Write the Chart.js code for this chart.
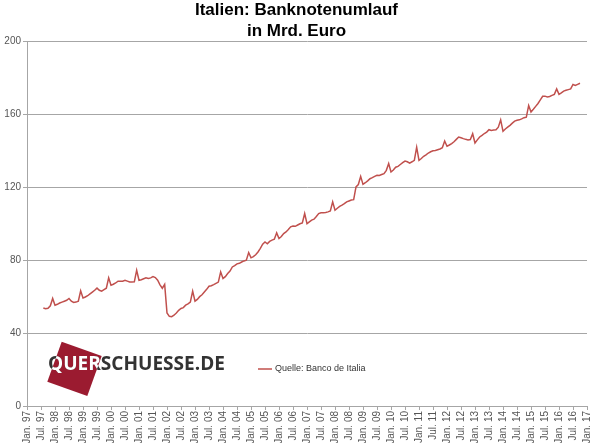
<!DOCTYPE html>
<html>
<head>
<meta charset="utf-8">
<script src="https://cdn.jsdelivr.net/npm/chart.js@4"></script>
<style>
  html, body { margin: 0; padding: 0; background: #fff; }
</style>
</head>
<body>
<canvas id="chart" width="600" height="443"></canvas>
<script>
// Banknotenumlauf Italien, Mrd. Euro, Monatswerte (Jan..Dez)
const v1997 = [null, null, null, null, null, null, null, 53.8, 53.4, 53.6, 55.0, 59.0];
const v1998 = [55.3, 55.8, 56.5, 57.0, 57.5, 58.0, 59.0, 57.5, 56.8, 57.0, 57.5, 63.2];
const v1999 = [59.3, 59.8, 60.5, 61.5, 62.5, 63.5, 64.7, 63.5, 63.0, 63.8, 64.6, 70.3];
const v2000 = [66.3, 66.8, 67.5, 68.5, 68.5, 68.5, 69.0, 68.5, 68.0, 68.0, 68.1, 74.5];
const v2001 = [69.0, 69.3, 69.8, 70.3, 70.0, 70.3, 71.0, 70.5, 69.0, 66.5, 64.6, 66.7];
const v2002 = [51.0, 49.2, 49.0, 49.8, 51.0, 52.5, 53.5, 54.0, 55.3, 56.0, 57.0, 63.0];
const v2003 = [57.5, 58.5, 60.0, 61.0, 62.5, 64.0, 65.7, 66.0, 66.6, 67.3, 68.0, 73.6];
const v2004 = [70.0, 71.0, 72.7, 74.0, 76.3, 77.0, 78.0, 78.3, 79.0, 79.6, 80.0, 84.2];
const v2005 = [81.3, 82.0, 83.0, 84.5, 86.5, 88.8, 90.0, 89.0, 90.3, 91.0, 91.5, 95.0];
const v2006 = [91.9, 93.0, 94.6, 95.5, 96.8, 98.3, 98.8, 98.6, 99.3, 100.0, 100.5, 105.6];
const v2007 = [100.0, 101.0, 102.0, 102.5, 104.0, 105.6, 106.0, 106.0, 106.2, 106.5, 107.0, 112.0];
const v2008 = [107.4, 108.5, 109.5, 110.2, 111.0, 112.0, 112.5, 113.0, 113.2, 120.2, 121.5, 126.0];
const v2009 = [121.6, 122.5, 123.5, 124.7, 125.3, 126.0, 126.6, 126.5, 127.0, 127.5, 129.3, 133.0];
const v2010 = [128.4, 129.5, 131.0, 131.5, 132.5, 133.5, 134.4, 134.0, 133.3, 134.0, 134.8, 142.0];
const v2011 = [134.8, 135.8, 137.0, 137.8, 138.8, 139.5, 140.0, 140.2, 140.6, 141.0, 141.7, 145.4];
const v2012 = [142.5, 143.2, 144.0, 145.0, 146.3, 147.6, 147.2, 146.7, 146.3, 146.0, 146.2, 149.4];
const v2013 = [144.3, 146.0, 147.6, 148.5, 149.5, 150.3, 151.6, 151.2, 151.4, 151.6, 153.0, 157.0];
const v2014 = [150.7, 152.0, 153.0, 154.0, 155.2, 156.3, 156.8, 157.0, 157.5, 158.2, 158.5, 164.9];
const v2015 = [161.3, 162.8, 164.4, 166.0, 168.0, 169.9, 170.0, 169.5, 169.8, 170.4, 171.0, 174.0];
const v2016 = [171.0, 171.8, 172.8, 173.2, 173.6, 174.0, 176.4, 175.9, 176.5, 177.1, null, null];
const v2017 = [null];

const years = [1997, 1998, 1999, 2000, 2001, 2002, 2003, 2004, 2005, 2006,
               2007, 2008, 2009, 2010, 2011, 2012, 2013, 2014, 2015, 2016, 2017];
const monthNames = ["Jan.", "Feb.", "Mrz.", "Apr.", "Mai.", "Jun.", "Jul.", "Aug.", "Sep.", "Okt.", "Nov.", "Dez."];
const shownMonths = ["Jan.", "Jul."];
const yTicks = [0, 40, 80, 120, 160, 200];

const values = [].concat(v1997, v1998, v1999, v2000, v2001, v2002, v2003, v2004, v2005, v2006,
  v2007, v2008, v2009, v2010, v2011, v2012, v2013, v2014, v2015, v2016, v2017);

const labels = [];
years.forEach(y => {
  const n = y === 2017 ? 1 : 12;
  for (let m = 0; m < n; m++) labels.push(monthNames[m] + " " + String(y).slice(2));
});

const lineColor = "#c0504d";
const gridColor = "#a6a6a6";

// Legende im Diagramm
const legendInPlot = {
  id: "legendInPlot",
  afterDraw(chart) {
    const ctx = chart.ctx;
    const ds = chart.data.datasets[0];
    const x = 258, y = 369;
    ctx.save();
    ctx.strokeStyle = ds.borderColor;
    ctx.lineWidth = 1.5;
    ctx.beginPath();
    ctx.moveTo(x, y);
    ctx.lineTo(x + 14, y);
    ctx.stroke();
    ctx.fillStyle = "#333";
    ctx.font = '9px "Liberation Sans"';
    ctx.textBaseline = "middle";
    ctx.fillText(ds.label, x + 17, y);
    ctx.restore();
  }
};

// Logo querschuesse.de
const logo = {
  id: "logo",
  afterDraw(chart) {
    const ctx = chart.ctx;
    const sq = [[61.7, 341.7], [101.7, 356.1], [87.3, 396], [47.3, 381.7]];
    ctx.save();
    ctx.beginPath();
    sq.forEach((p, i) => i ? ctx.lineTo(p[0], p[1]) : ctx.moveTo(p[0], p[1]));
    ctx.closePath();
    ctx.fillStyle = "#9b1b30";
    ctx.fill();

    const txt = "QUERSCHUESSE.DE";
    ctx.font = 'bold 19px "Open Sans"';
    const w = ctx.measureText(txt).width;
    const sx = 177 / w;
    const drawText = color => {
      ctx.save();
      ctx.translate(48, 370);
      ctx.scale(sx, 1);
      ctx.fillStyle = color;
      ctx.textBaseline = "alphabetic";
      ctx.fillText(txt, 0, 0);
      ctx.restore();
    };
    drawText("#333");
    ctx.beginPath();
    sq.forEach((p, i) => i ? ctx.lineTo(p[0], p[1]) : ctx.moveTo(p[0], p[1]));
    ctx.closePath();
    ctx.clip();
    drawText("#fff");
    ctx.restore();
  }
};

new Chart(document.getElementById("chart").getContext("2d"), {
  type: "line",
  data: {
    labels: labels,
    datasets: [{
      label: "Quelle: Banco de Italia",
      data: values,
      borderColor: lineColor,
      borderWidth: 1.5,
      pointRadius: 0,
      tension: 0,
      fill: false
    }]
  },
  options: {
    responsive: false,
    animation: false,
    layout: { padding: { right: 7, left: 0, top: 0, bottom: 0 } },
    plugins: {
      legend: { display: false },
      tooltip: { enabled: false },
      title: {
        display: true,
        text: ["Italien: Banknotenumlauf", "in Mrd. Euro"],
        color: "#000",
        font: { family: '"Liberation Sans", Arial', size: 17, weight: "bold", lineHeight: 1.22 },
        padding: { top: 0, bottom: 0 }
      }
    },
    scales: {
      x: {
        offset: false,
        grid: { drawOnChartArea: false, color: gridColor, tickLength: 4 },
        border: { color: gridColor },
        ticks: {
          autoSkip: false,
          minRotation: 90,
          maxRotation: 90,
          padding: 1,
          color: "#555",
          font: { family: '"Liberation Sans", Arial', size: 10 },
          callback(val) {
            const l = this.getLabelForValue(val);
            return shownMonths.includes(l.split(" ")[0]) ? l : null;
          }
        },
        afterFit(scale) { scale.height = 37; }
      },
      y: {
        min: 0,
        max: 200,
        afterBuildTicks(scale) { scale.ticks = yTicks.map(v => ({ value: v })); },
        grid: { color: gridColor, tickLength: 4 },
        border: { color: gridColor },
        ticks: {
          padding: 2,
          color: "#555",
          font: { family: '"Liberation Sans", Arial', size: 10 }
        },
        afterFit(scale) { scale.width = 27; }
      }
    }
  },
  plugins: [legendInPlot, logo]
});
</script>
</body>
</html>
